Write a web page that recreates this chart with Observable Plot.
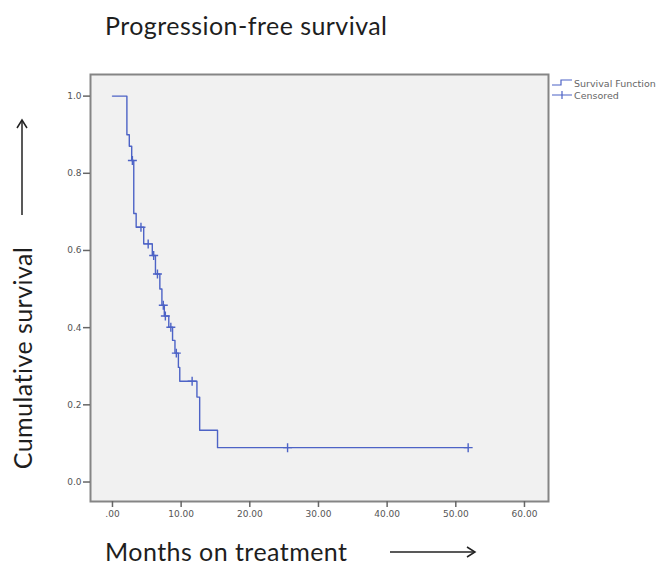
<!DOCTYPE html>
<html>
<head>
<meta charset="utf-8">
<script src="https://cdn.jsdelivr.net/npm/d3@7"></script>
<script src="https://cdn.jsdelivr.net/npm/@observablehq/plot@0.6"></script>
<style>
  body { margin: 0; background: #fff; }
  #wrap { position: relative; width: 670px; height: 565px; overflow: hidden; font-family: Lato, "Open Sans", sans-serif; }
  #chart { position: absolute; left: 0; top: 0; }
  .big { position: absolute; color: #1e1e1e; font-size: 25px; letter-spacing: 0.45px; white-space: nowrap; line-height: 26px; }
  #title { left: 105px; top: 12px; }
  #xlabel { left: 105px; top: 538px; }
  #ylabel { left: 22px; top: 358px; transform: translate(-50%, -50%) rotate(-90deg); }
  #legend { position: absolute; left: 551px; top: 77px; font-family: "DejaVu Sans", sans-serif; font-size: 9.5px; color: #666; }
  #legend div { display: flex; align-items: center; height: 12px; }
  #legend svg { margin-right: 1px; }
  .arrow { position: absolute; }
</style>
</head>
<body>
<div id="wrap">
  <div id="chart"></div>
  <div id="title" class="big">Progression-free survival</div>
  <div id="xlabel" class="big">Months on treatment</div>
  <div id="ylabel" class="big">Cumulative survival</div>
  <svg class="arrow" style="left:385px;top:544px" width="95" height="16"><line x1="5" y1="8" x2="90" y2="8" stroke="#222" stroke-width="1.5"/><path d="M82,3 L90,8 L82,13" fill="none" stroke="#222" stroke-width="1.5"/></svg>
  <svg class="arrow" style="left:14px;top:115px" width="16" height="105"><line x1="8" y1="100" x2="8" y2="5" stroke="#222" stroke-width="1.5"/><path d="M3,13 L8,5 L13,13" fill="none" stroke="#222" stroke-width="1.5"/></svg>
  <div id="legend">
    <div><svg width="22" height="10"><path d="M1,7 L10,7 L10,2 L21,2" fill="none" stroke="#4d63c6" stroke-width="1.2"/></svg>Survival Function</div>
    <div><svg width="22" height="10"><path d="M1,5 L21,5 M11,1 L11,9" fill="none" stroke="#4d63c6" stroke-width="1.2"/></svg>Censored</div>
  </div>
</div>
<script>
// Kaplan-Meier step curve (time in months, cumulative survival after each drop)
const stepTimes = [0, 2.1, 2.45, 2.8, 3.1, 3.45, 4.55, 5.8, 6.26, 6.9, 7.2, 7.55, 8.2, 8.75, 9.1, 9.6, 9.8, 12.3, 12.7, 15.3, 51.8];
const stepSurv  = [1.0, 0.90, 0.87, 0.833, 0.696, 0.66, 0.617, 0.587, 0.539, 0.50, 0.458, 0.43, 0.401, 0.367, 0.334, 0.297, 0.261, 0.22, 0.134, 0.089, 0.089];
// Censored observations
const censorTimes = [2.9, 4.15, 5.2, 6.0, 6.55, 7.4, 7.7, 8.5, 9.3, 11.6, 25.5, 51.8];
const censorSurv  = [0.833, 0.66, 0.617, 0.587, 0.539, 0.458, 0.43, 0.401, 0.334, 0.261, 0.089, 0.089];
// Axis ticks
const xTicks = [0, 10, 20, 30, 40, 50, 60];
const xTickLabels = [".00", "10.00", "20.00", "30.00", "40.00", "50.00", "60.00"];
const yTicks = [0, 0.2, 0.4, 0.6, 0.8, 1.0];
const yTickLabels = ["0.0", "0.2", "0.4", "0.6", "0.8", "1.0"];

const steps = stepTimes.map((t, i) => ({t, s: stepSurv[i]}));
const censored = censorTimes.map((t, i) => ({t, s: censorSurv[i]}));
const lineColor = "#4d63c6";

const chart = Plot.plot({
  width: 670,
  height: 530,
  marginTop: 74,
  marginBottom: 29,
  marginLeft: 90,
  marginRight: 122,
  style: {background: "transparent", fontFamily: "'DejaVu Sans', sans-serif"},
  x: {domain: [-3.2, 63.5]},
  y: {domain: [-0.0505, 1.056]},
  marks: [
    Plot.frame({fill: "#f1f1f1", stroke: "none"}),
    Plot.line(steps, {x: "t", y: "s", curve: "step-after", stroke: lineColor, strokeWidth: 1.4}),
    Plot.dot(censored, {x: "t", y: "s", symbol: "plus", r: 3, stroke: lineColor, strokeWidth: 1.4}),
    Plot.frame({stroke: "#858585", strokeWidth: 2}),
    Plot.axisX({ticks: xTicks, tickFormat: (d) => xTickLabels[xTicks.indexOf(d)], tickSize: 6, tickPadding: 3, fontSize: 9, fill: "#555", stroke: "#666", strokeWidth: 1.5, label: null}),
    Plot.axisY({ticks: yTicks, tickFormat: (d) => yTickLabels[yTicks.findIndex(v => Math.abs(v - d) < 1e-9)], tickSize: 7, tickPadding: 2, fontSize: 9, fill: "#555", stroke: "#666", strokeWidth: 1.5, label: null})
  ]
});
document.getElementById("chart").appendChild(chart);
</script>
</body>
</html>
